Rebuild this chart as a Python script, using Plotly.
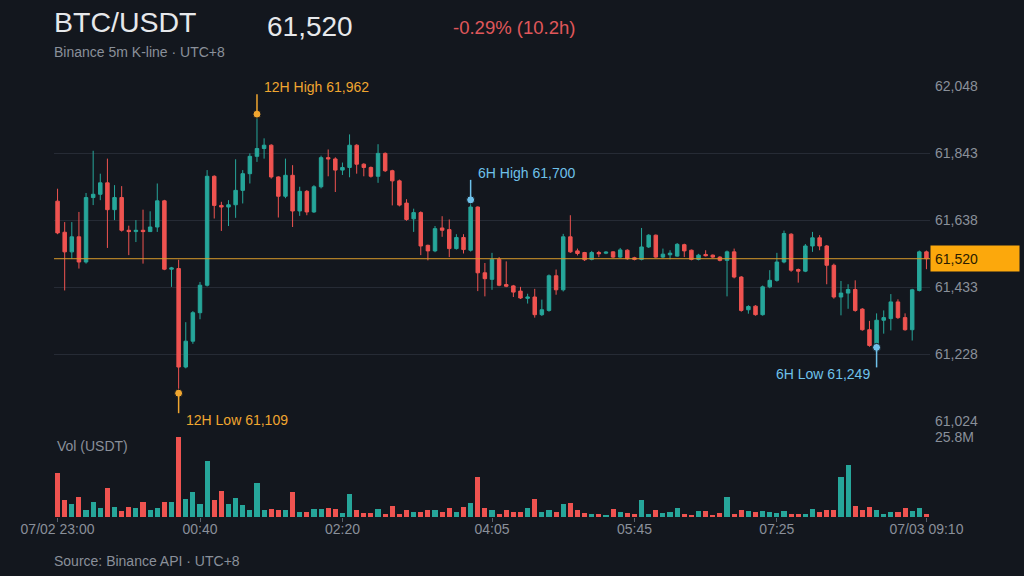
import pandas as pd
import plotly.graph_objects as go

# 5m candles, 07/02 23:00 -> 07/03 09:10 (UTC+8)
start = "2024-07-02 23:00"
opens = [61696, 61601, 61541, 61587, 61510, 61707, 61717, 61752, 61670, 61707,
         61607, 61603, 61607, 61603, 61617, 61697, 61488, 61490, 61189, 61268,
         61355, 61439, 61772, 61683, 61678, 61685, 61729, 61780, 61833, 61857,
         61867, 61770, 61711, 61775, 61666, 61726, 61663, 61740, 61829, 61825,
         61791, 61799, 61867, 61809, 61799, 61772, 61842, 61789, 61758, 61690,
         61642, 61661, 61561, 61544, 61614, 61609, 61551, 61585, 61546, 61678,
         61477, 61457, 61518, 61441, 61437, 61421, 61399, 61403, 61349, 61362,
         61468, 61425, 61587, 61544, 61539, 61518, 61539, 61537, 61541, 61525,
         61546, 61523, 61518, 61556, 61592, 61525, 61532, 61528, 61563, 61546,
         61518, 61533, 61531, 61525, 61515, 61541, 61464, 61364, 61375, 61349,
         61434, 61454, 61510, 61595, 61487, 61482, 61559, 61584, 61559, 61500,
         61403, 61415, 61426, 61366, 61303, 61250, 61332, 61337, 61388, 61340,
         61303, 61423, 61541]
highs = [61734, 61632, 61632, 61663, 61721, 61850, 61780, 61826, 61745, 61742,
         61621, 61638, 61670, 61665, 61750, 61700, 61495, 61517, 61326, 61360,
         61449, 61791, 61775, 61694, 61699, 61824, 61791, 61842, 61962, 61888,
         61870, 61772, 61826, 61806, 61740, 61730, 61745, 61835, 61854, 61830,
         61814, 61900, 61870, 61812, 61802, 61870, 61845, 61792, 61762, 61702,
         61673, 61665, 61563, 61620, 61650, 61640, 61595, 61595, 61700, 61680,
         61507, 61538, 61525, 61512, 61440, 61434, 61413, 61428, 61395, 61472,
         61487, 61596, 61653, 61551, 61541, 61544, 61544, 61543, 61543, 61553,
         61549, 61526, 61614, 61595, 61594, 61551, 61546, 61568, 61566, 61548,
         61535, 61546, 61533, 61528, 61545, 61551, 61467, 61378, 61378, 61438,
         61485, 61538, 61606, 61598, 61490, 61565, 61602, 61592, 61562, 61505,
         61452, 61442, 61454, 61369, 61330, 61353, 61362, 61412, 61396, 61353,
         61428, 61545, 61545]
lows = [61595, 61423, 61520, 61490, 61505, 61684, 61699, 61553, 61638, 61603,
        61531, 61571, 61505, 61602, 61602, 61485, 61434, 61109, 61185, 61260,
        61335, 61435, 61643, 61605, 61620, 61645, 61689, 61750, 61816, 61826,
        61765, 61646, 61705, 61617, 61651, 61653, 61660, 61735, 61772, 61724,
        61776, 61769, 61780, 61772, 61768, 61752, 61785, 61683, 61680, 61636,
        61602, 61531, 61515, 61540, 61587, 61525, 61548, 61536, 61542, 61421,
        61405, 61425, 61436, 61433, 61403, 61397, 61383, 61340, 61345, 61358,
        61410, 61420, 61538, 61530, 61513, 61515, 61525, 61534, 61522, 61522,
        61517, 61515, 61515, 61553, 61522, 61522, 61518, 61526, 61525, 61515,
        61515, 61527, 61522, 61512, 61405, 61460, 61358, 61352, 61346, 61346,
        61430, 61450, 61506, 61480, 61447, 61479, 61541, 61546, 61442, 61398,
        61347, 61367, 61358, 61300, 61251, 61249, 61291, 61301, 61336, 61300,
        61270, 61420, 61488]
closes = [61599, 61541, 61587, 61510, 61707, 61717, 61752, 61670, 61707, 61607,
          61603, 61607, 61603, 61617, 61697, 61488, 61492, 61189, 61268, 61355,
          61439, 61772, 61683, 61678, 61685, 61729, 61780, 61833, 61857, 61867,
          61770, 61711, 61775, 61666, 61726, 61663, 61740, 61829, 61825, 61791,
          61799, 61867, 61809, 61799, 61772, 61842, 61789, 61758, 61684, 61640,
          61661, 61559, 61544, 61612, 61607, 61551, 61585, 61548, 61678, 61477,
          61459, 61518, 61439, 61436, 61418, 61400, 61403, 61349, 61364, 61468,
          61425, 61587, 61541, 61536, 61517, 61539, 61535, 61540, 61525, 61547,
          61520, 61518, 61556, 61592, 61525, 61534, 61537, 61564, 61544, 61518,
          61531, 61529, 61525, 61515, 61541, 61464, 61362, 61374, 61349, 61434,
          61454, 61510, 61597, 61485, 61482, 61559, 61584, 61559, 61500, 61403,
          61415, 61426, 61362, 61303, 61255, 61332, 61340, 61388, 61340, 61303,
          61425, 61541, 61520]
# volume in million USDT
volumes = [14.3, 5.6, 4.3, 6.3, 2.2, 4.8, 3.0, 9.5, 3.3, 2.0,
           3.3, 3.0, 5.0, 2.4, 3.0, 5.0, 5.0, 25.8, 5.9, 8.2,
           4.1, 18.0, 5.4, 8.5, 4.3, 6.1, 3.9, 2.4, 11.1, 2.2,
           2.6, 2.2, 2.4, 8.2, 1.7, 1.7, 2.6, 2.6, 3.0, 2.6,
           1.3, 7.4, 2.2, 1.3, 1.3, 2.6, 1.1, 3.7, 1.1, 2.4,
           1.5, 1.5, 2.4, 2.2, 1.7, 2.8, 1.5, 3.3, 4.6, 12.8,
           2.8, 2.4, 0.9, 2.2, 1.5, 1.5, 2.8, 5.9, 1.7, 2.4,
           1.7, 4.3, 4.6, 2.4, 1.3, 1.1, 1.1, 0.7, 2.6, 1.7,
           1.3, 1.1, 5.4, 1.1, 2.4, 1.3, 1.5, 2.8, 0.9, 0.7,
           2.0, 2.0, 0.7, 1.3, 6.3, 1.1, 2.4, 2.0, 1.5, 2.0,
           1.5, 1.3, 2.0, 0.9, 0.9, 1.1, 2.6, 1.5, 2.2, 2.2,
           13.0, 16.7, 3.5, 2.2, 3.3, 2.4, 1.1, 1.5, 1.7, 3.0,
           2.0, 2.8, 0.9]

tick_times = ["23:00", "00:40", "02:20", "04:05", "05:45", "07:25", "09:10"]
tick_labels = ["07/02 23:00", "00:40", "02:20", "04:05", "05:45", "07:25", "07/03 09:10"]
price_ticks = [61024, 61228, 61433, 61638, 61843, 62048]
vol_ticks = [25.8]
vol_tick_labels = ["25.8M"]

BG = "#13171e"
UP = "#26a69a"
DOWN = "#ef5350"
GRID = "#262b35"
MUTED = "#8a909a"
ORANGE = "#f0a630"
BLUE = "#6ec1ea"
FONT = "Liberation Sans, Arial, sans-serif"

n = len(opens)
times = pd.date_range(start, periods=n, freq="5min")
hhmm = [t.strftime("%H:%M") for t in times]
idx = list(range(n))
tick_pos = [hhmm.index(t) for t in tick_times]
vol_colors = [UP if c >= o else DOWN for o, c in zip(opens, closes)]

last = closes[-1]
pct = (last / opens[0] - 1) * 100
hours = n * 5 / 60

# 12H = whole window, 6H = last 72 candles
hi12 = max(idx, key=lambda i: highs[i])
lo12 = min(idx, key=lambda i: lows[i])
hi6 = max(idx[-72:], key=lambda i: highs[i])
lo6 = min(idx[-72:], key=lambda i: lows[i])

# plot area in pixels
L, R, T, B = 54, 930, 86, 517


def px_x(x):
    return (x - L) / (R - L)


def px_y(y):
    return (B - y) / (B - T)


fig = go.Figure()
fig.add_trace(go.Candlestick(
    x=idx, open=opens, high=highs, low=lows, close=closes,
    increasing=dict(line=dict(color=UP, width=1), fillcolor=UP),
    decreasing=dict(line=dict(color=DOWN, width=1), fillcolor=DOWN),
    whiskerwidth=0, xaxis="x", yaxis="y", showlegend=False,
))
fig.add_trace(go.Bar(
    x=idx, y=volumes, marker=dict(color=vol_colors, line=dict(width=0)),
    width=0.72, xaxis="x", yaxis="y2", showlegend=False,
))
fig.add_trace(go.Scatter(
    x=[hi12, lo12], y=[highs[hi12], lows[lo12]], mode="markers",
    marker=dict(size=8, color=ORANGE, line=dict(width=1, color=BG)),
    xaxis="x", yaxis="y", showlegend=False,
))
fig.add_trace(go.Scatter(
    x=[hi6, lo6], y=[highs[hi6], lows[lo6]], mode="markers",
    marker=dict(size=8, color=BLUE, line=dict(width=1, color=BG)),
    xaxis="x", yaxis="y", showlegend=False,
))

shapes = [dict(type="line", xref="paper", x0=0, x1=1, yref="y", y0=last, y1=last,
               line=dict(color="#d99a2b", width=1))]
marks = [
    (hi12, highs[hi12], 20, ORANGE, "12H High", "left"),
    (lo12, lows[lo12], -20, ORANGE, "12H Low", "left"),
    (hi6, highs[hi6], 20, BLUE, "6H High", "left"),
    (lo6, lows[lo6], -20, BLUE, "6H Low", "right"),
]
annotations = []
for i, v, d, col, name, side in marks:
    shapes.append(dict(type="line", xref="x", x0=i, x1=i, yref="y", ysizemode="pixel",
                       yanchor=v, y0=0, y1=d, line=dict(color=col, width=1.5)))
    annotations.append(dict(
        x=i, y=v, xref="x", yref="y", text=f"{name} {v:,}", showarrow=False,
        xanchor=side, yanchor="middle", xshift=5 if side == "left" else -5,
        yshift=27 if d > 0 else -27, font=dict(size=14, color=col, family=FONT),
    ))

annotations += [
    dict(x=1, y=last, xref="paper", yref="y", text=f"{last:,}", showarrow=False,
         xanchor="left", yanchor="middle", align="left", width=80, height=17,
         bgcolor="#fca80c", borderpad=4, font=dict(size=14, color="#2a1c00", family=FONT)),
    dict(x=px_x(52), y=px_y(22), text="BTC/USDT", font=dict(size=28.5, color="#e6e8eb")),
    dict(x=px_x(265), y=px_y(26), text=f"{last:,}", font=dict(size=28, color="#e6e8eb")),
    dict(x=px_x(451), y=px_y(28), text=f"{pct:.2f}% ({hours:.1f}h)",
         font=dict(size=18.5, color="#e0575b")),
    dict(x=px_x(52), y=px_y(52), text="Binance 5m K-line · UTC+8",
         font=dict(size=14, color=MUTED)),
    dict(x=px_x(55), y=px_y(446), text="Vol (USDT)", font=dict(size=14, color=MUTED)),
    dict(x=px_x(52), y=px_y(561), text="Source: Binance API · UTC+8",
         font=dict(size=14, color=MUTED)),
]
for a in annotations[-6:]:
    a.update(xref="paper", yref="paper", xanchor="left", yanchor="middle", showarrow=False)
    a["font"]["family"] = FONT

fig.update_layout(
    width=1024, height=576, autosize=False,
    margin=dict(l=L, r=1024 - R, t=T, b=576 - B),
    paper_bgcolor=BG, plot_bgcolor=BG,
    font=dict(family=FONT, color=MUTED, size=14),
    showlegend=False, bargap=0, hovermode=False,
    xaxis=dict(range=[-0.5, n - 0.5], anchor="y2", domain=[0, 1],
               tickvals=tick_pos, ticktext=tick_labels, ticks="outside", ticklen=4,
               tickcolor="#5a606b", showgrid=False, zeroline=False, showline=False,
               rangeslider=dict(visible=False), tickfont=dict(size=14, color=MUTED),
               ticklabelstandoff=-5),
    yaxis=dict(domain=[px_y(421), 1], range=[price_ticks[0], price_ticks[-1]], side="right",
               tickvals=price_ticks, ticktext=[f"{v:,}" for v in price_ticks],
               gridcolor=GRID, gridwidth=1, zeroline=False, showline=False,
               tickfont=dict(size=14, color=MUTED), ticklabelstandoff=4),
    yaxis2=dict(domain=[0, px_y(437)], range=[0, vol_ticks[0]], side="right",
                tickvals=vol_ticks, ticktext=vol_tick_labels, gridcolor=GRID,
                zeroline=False, showline=False, anchor="x",
                tickfont=dict(size=14, color=MUTED), ticklabelstandoff=4),
    shapes=shapes,
    annotations=annotations,
)

# page body has a default 8px margin; drop it so the figure fills the window
fig.write_html("out.html", config={"displayModeBar": False}, post_script=(
    f"document.body.style.margin='0';document.body.style.background='{BG}';"
    "document.body.style.overflow='hidden';"
))
